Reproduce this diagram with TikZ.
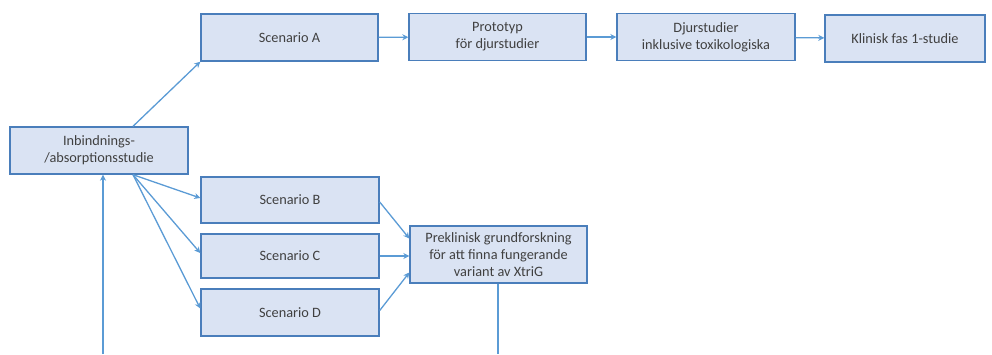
\documentclass[tikz,border=0pt]{standalone}
\usepackage{fontspec}
\setmainfont{Carlito}
\usetikzlibrary{arrows.meta}
\definecolor{boxfill}{RGB}{218,227,243}
\definecolor{boxdraw}{RGB}{74,126,187}
\definecolor{arr}{RGB}{91,155,213}
\definecolor{txt}{RGB}{64,64,64}
\tikzset{
  box/.style={draw=boxdraw, line width=1.4pt, fill=boxfill, text=txt, align=center,
    font=\fontsize{14.3}{17}\selectfont, inner sep=0pt},
  conn/.style={draw=arr, line width=1.3pt, -{Stealth[length=6pt,width=6pt]}},
  plain/.style={draw=arr, line width=1.3pt}
}
\begin{document}
\begin{tikzpicture}[x=1pt,y=-1pt]
\useasboundingbox (0,0) rectangle (992,354);
\node[box, minimum width=178pt, minimum height=47pt] (inb) at (99,150.5) {Inbindnings-\\/absorptionsstudie};
\node[box, minimum width=177pt, minimum height=47pt] (a) at (289.5,37.5) {Scenario A};
\node[box, minimum width=177pt, minimum height=47pt] (proto) at (497.5,37) {Prototyp\\för djurstudier};
\node[box, minimum width=178pt, minimum height=47pt] (djur) at (706,37) {Djurstudier\\inklusive toxikologiska};
\node[box, minimum width=160pt, minimum height=47pt] (klin) at (905,38.5) {Klinisk fas 1-studie};
\node[box, minimum width=178pt, minimum height=46pt] (b) at (290,200) {Scenario B};
\node[box, minimum width=178pt, minimum height=44pt] (c) at (290,256) {Scenario C};
\node[box, minimum width=178pt, minimum height=47pt] (d) at (290,312.5) {Scenario D};
\node[box, minimum width=177pt, minimum height=57pt] (pre) at (498.5,254.5) {Preklinisk grundforskning\\för att finna fungerande\\variant av XtriG};
\coordinate (inbbot) at (103,354);
\coordinate (prebot) at (498,354);
% connectors
\draw[conn] (inb.north -| 133,0) -- (a.south west);
\draw[conn] (a) -- (proto);
\draw[conn] (proto) -- (djur);
\draw[conn] (djur) -- (klin);
\draw[conn] (inb.south -| 133,0) -- ([yshift=2pt]b.west);
\draw[conn] (inb.south -| 133,0) -- ([yshift=3pt]c.west);
\draw[conn] (inb.south -| 133,0) -- ([yshift=4pt]d.west);
\draw[conn] ([yshift=-2pt]b.east) -- ([yshift=16pt]pre.west);
\draw[conn] (c.east) -- ([yshift=-1.5pt]pre.west);
\draw[conn] ([yshift=2pt]d.east) -- ([yshift=-18pt]pre.west);
\draw[conn] (inbbot) -- (inb.south -| inbbot);
\draw[plain] (pre.south -| prebot) -- (prebot);
\end{tikzpicture}
\end{document}
